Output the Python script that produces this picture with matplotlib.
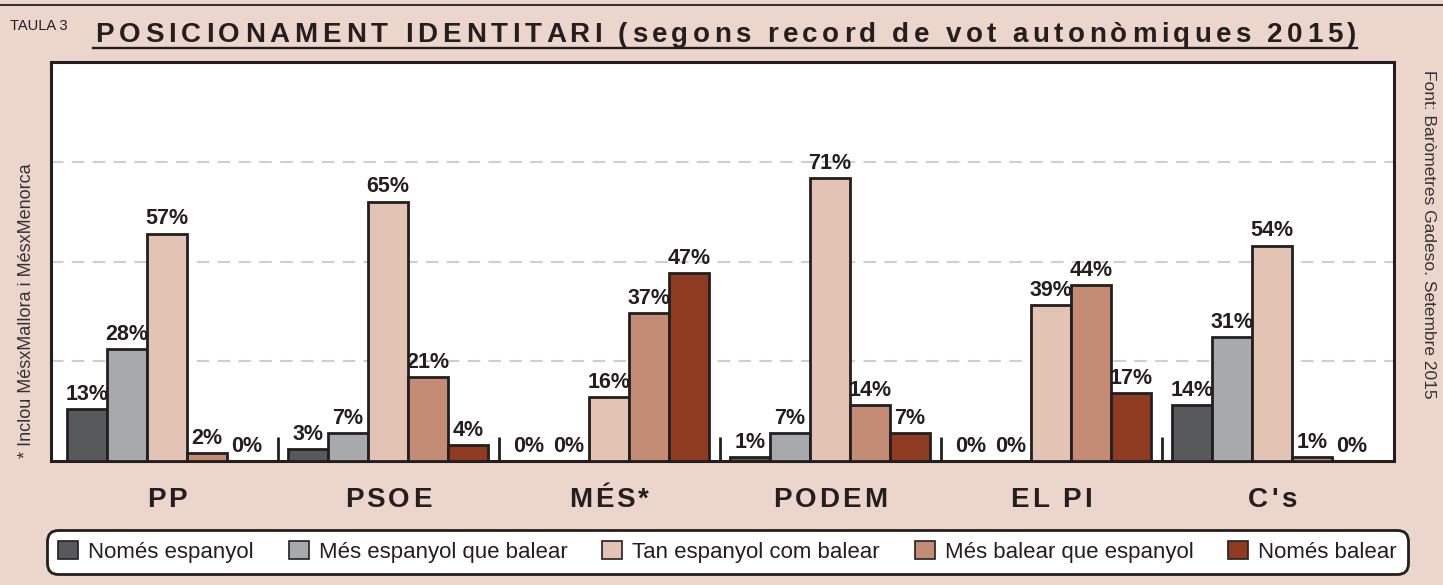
import matplotlib.pyplot as plt
import numpy as np
from matplotlib.lines import Line2D
from matplotlib.transforms import IdentityTransform

plt.rcParams['font.family'] = ['Liberation Sans', 'DejaVu Sans']

GROUPS = ["PP", "PSOE", "MÉS*", "PODEM", "EL PI", "C's"]
SERIES = ["Només espanyol", "Més espanyol que balear", "Tan espanyol com balear",
          "Més balear que espanyol", "Només balear"]
NOMES_ESP = [13, 3, 0, 1, 0, 14]
MES_ESP = [28, 7, 0, 7, 0, 31]
TAN = [57, 65, 16, 71, 39, 54]
MES_BAL = [2, 21, 37, 14, 44, 1]
NOMES_BAL = [0, 4, 47, 7, 17, 0]
COLORS = ["#58595b", "#a7a9ac", "#e3c3b3", "#c58c75", "#8f3b22"]

W, H = 1443, 585
BG = "#ecd6cc"
INK = "#231f20"

fig = plt.figure(figsize=(W / 100, H / 100), dpi=100, facecolor=BG)
ax = fig.add_axes([51 / W, 1 - 461 / H, (1394 - 51) / W, (461 - 62) / H])
ax.set_facecolor("white")

# --- barres agrupades ---
bw = 40 / 221
x = np.arange(len(GROUPS))
data = [NOMES_ESP, MES_ESP, TAN, MES_BAL, NOMES_BAL]
for k, (vals, name, col) in enumerate(zip(data, SERIES, COLORS)):
    xs = x + (k - 2) * bw
    ax.bar(xs, vals, bw, color=col, edgecolor=INK, linewidth=2, label=name, zorder=3)
    for xi, v in zip(xs, vals):
        ax.annotate(f"{v}%", (xi, v), xytext=(0, 3), textcoords="offset points",
                    ha="center", va="bottom", fontsize=15.5, fontweight="bold", color=INK)

ax.vlines(x[:-1] + 0.5, 0, 6, color=INK, lw=2, zorder=4)
ax.set_xlim(-2.5 * bw - 16 / 221, 5 + 2.5 * bw + 22 / 221)
ax.set_ylim(0, 100)
ax.set_xticks([])
ax.set_yticks([25, 50, 75])
ax.tick_params(left=False, labelleft=False)
ax.grid(axis="y", color="#cfcfcf", lw=1.5, ls=(0, (6, 4)), zorder=0)
for sp in ax.spines.values():
    sp.set_linewidth(2.2)
    sp.set_color(INK)


def spaced(s, x, y, spacing=0.0, width=None, center=False, **kw):
    """text amb espaiat entre lletres (coordenades en píxels)"""
    r = fig.canvas.get_renderer()

    def w(txt):
        t = fig.text(0, 0, txt, transform=IdentityTransform(), **kw)
        e = t.get_window_extent(r).width
        t.remove()
        return e

    bar = w("|")
    pos = [w(s[:i] + "|") - bar for i in range(len(s))]
    natural = w(s)
    if width is not None:
        spacing = (width - natural) / (len(s) - 1)
    total = natural + spacing * (len(s) - 1)
    x0 = x - total / 2 if center else x
    for i, ch in enumerate(s):
        if ch != " ":
            fig.text(x0 + pos[i] + i * spacing, y, ch, transform=IdentityTransform(),
                     va="baseline", **kw)


# etiquetes dels partits
for g, name in zip(x, GROUPS):
    cx = ax.transData.transform((g, 0))[0]
    spaced(name, cx, H - 507, spacing=3, center=True, fontsize=20,
           fontweight="bold", color=INK)

# títol
title_kw = dict(fontsize=20, fontweight="bold", color=INK)
spaced("POSICIONAMENT IDENTITARI", 95, H - 42, width=602 - 95, **title_kw)
spaced("(segons record de vot autonòmiques 2015)", 618, H - 42, width=1356 - 618, **title_kw)
fig.add_artist(Line2D([93 / W, 1357 / W], [1 - 48 / H] * 2, color=INK, lw=1.7))
fig.add_artist(Line2D([0, 1], [1 - 5 / H] * 2, color="#333333", lw=1.5))
fig.text(10 / W, 1 - 30 / H, "TAULA 3", fontsize=10.5, va="baseline", color=INK)

fig.text(27 / W, 1 - 311 / H, "* Inclou MésxMallora i MésxMenorca", rotation=90,
         ha="center", va="center", fontsize=13, color="#333333")
fig.text(1428 / W, 1 - 234 / H, "Font: Baròmetres Gadeso. Setembre 2015", rotation=-90,
         ha="center", va="center", fontsize=12.5, color="#333333")

# llegenda
leg = fig.legend(loc="center", bbox_to_anchor=(727.5 / W, 1 - 552 / H), ncol=5,
                 fontsize=16, frameon=True, fancybox=True, handlelength=0.9,
                 handleheight=0.85, handletextpad=0.45, columnspacing=1.57,
                 borderpad=0.5, edgecolor=INK, facecolor="white", framealpha=1,
                 labelcolor=INK)
leg.get_frame().set_linewidth(2)
leg.get_frame().set_boxstyle("round", pad=0, rounding_size=0.5)
for h in leg.legend_handles:
    h.set_linewidth(1.2)

fig.savefig("out.png", dpi=100, facecolor=BG)
